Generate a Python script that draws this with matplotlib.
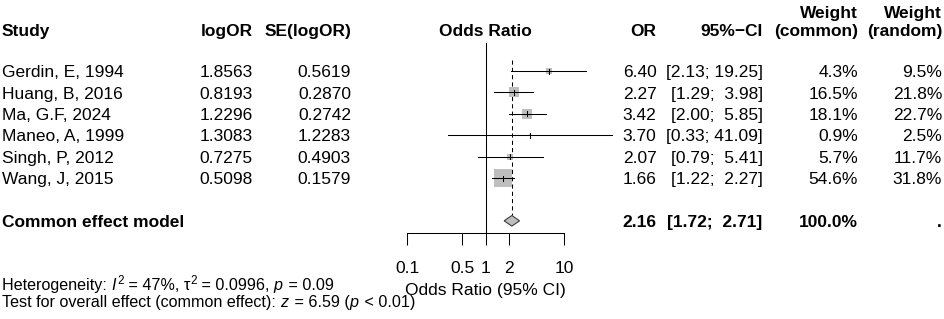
import numpy as np
import matplotlib
matplotlib.use("Agg")
import matplotlib.pyplot as plt
from matplotlib.font_manager import FontProperties

plt.rcParams['font.family'] = ['Liberation Sans', 'DejaVu Sans']

# ---------------- data ----------------
studies = ["Gerdin, E, 1994", "Huang, B, 2016", "Ma, G.F, 2024",
           "Maneo, A, 1999", "Singh, P, 2012", "Wang, J, 2015"]
log_or = [1.8563, 0.8193, 1.2296, 1.3083, 0.7275, 0.5098]
se_log_or = [0.5619, 0.2870, 0.2742, 1.2283, 0.4903, 0.1579]
odds_ratio = [6.40, 2.27, 3.42, 3.70, 2.07, 1.66]
ci_low = [2.13, 1.29, 2.00, 0.33, 0.79, 1.22]
ci_high = [19.25, 3.98, 5.85, 41.09, 5.41, 2.27]
weight_common = [4.3, 16.5, 18.1, 0.9, 5.7, 54.6]
weight_random = [9.5, 21.8, 22.7, 2.5, 11.7, 31.8]

pooled_label = "Common effect model"
pooled_or = 2.16
pooled_low = 1.72
pooled_high = 2.71
pooled_weight_common = 100.0

tick_values = [0.1, 0.5, 1, 2, 10]
tick_labels = ["0.1", "0.5", "1", "2", "10"]

# (text, italic, superscript)
het_parts = [("Heterogeneity: ", False, False), ("I", True, False), ("2", False, True),
             (" = 47%, ", False, False), ("\u03c4", False, False), ("2", False, True),
             (" = 0.0996, ", False, False), ("p", True, False), (" = 0.09", False, False)]
test_parts = [("Test for overall effect (common effect): ", False, False), ("z", True, False),
              (" = 6.59 (", False, False), ("p", True, False), (" < 0.01)", False, False)]

# ---------------- layout (pixels) ----------------
W, H = 944, 319
FS = 12.5
FS_NOTE = 11.6
GRAY = "#BEBEBE"
LW = 0.75

fig = plt.figure(figsize=(W / 100, H / 100), dpi=100)
ax = fig.add_axes([0, 0, 1, 1])
ax.set_xlim(0, W)
ax.set_ylim(H, 0)
ax.axis("off")

x_left, x_right, y_axis = 407.3, 564.0, 233.3
fa = fig.add_axes([x_left / W, 1 - y_axis / H, (x_right - x_left) / W, y_axis / H])
fa.set_xscale("log")
fa.set_xlim(tick_values[0], tick_values[-1])
fa.set_ylim(y_axis, 0)
fa.patch.set_alpha(0)
for s in ("top", "left", "right"):
    fa.spines[s].set_visible(False)
fa.spines["bottom"].set_linewidth(LW)
fa.set_xticks(tick_values)
fa.set_xticklabels(tick_labels)
fa.xaxis.set_minor_locator(matplotlib.ticker.NullLocator())
fa.tick_params(axis="x", length=8.4, width=LW, pad=11.5, labelsize=FS)
fa.set_yticks([])

row0, dy = 71.0, 21.4
rows_y = [row0 + i * dy for i in range(len(studies))]
pooled_y = row0 + (len(studies) + 1) * dy
header_y = 30.0
cap = 6.2  # half cap height, to convert centre to baseline

# reference lines
fa.plot([1, 1], [42.7, y_axis], color="black", lw=LW, clip_on=False)
fa.plot([pooled_or, pooled_or], [60, pooled_y - 5.5], color="black", lw=LW,
        linestyle=(0, (4, 3)), clip_on=False)

# study markers
wmax = max(weight_common)
for i, y in enumerate(rows_y):
    side_px = 18.4 * np.sqrt(weight_common[i] / wmax)
    fa.plot(odds_ratio[i], y, marker="s", ms=side_px * 0.72, color=GRAY,
            mec=GRAY, mew=0, zorder=2, clip_on=False)
    fa.plot([ci_low[i], ci_high[i]], [y, y], color="black", lw=LW, zorder=3,
            clip_on=False)
    fa.plot([odds_ratio[i]] * 2, [y - 2.5, y + 2.5], color="black", lw=LW,
            zorder=3, clip_on=False)

# pooled diamond
fa.fill([pooled_low, pooled_or, pooled_high, pooled_or],
        [pooled_y, pooled_y - 5.3, pooled_y, pooled_y + 5.3],
        facecolor=GRAY, edgecolor="#333333", lw=LW, zorder=3, clip_on=False)

# ---------------- text ----------------
def t(x, y, s, ha="left", bold=False, size=FS):
    ax.text(x, y + cap, s, ha=ha, va="baseline", fontsize=size,
            fontweight="bold" if bold else "normal")

renderer = fig.canvas.get_renderer()

def text_w(s, size, italic):
    fp = FontProperties(family="Liberation Sans", size=size,
                        style="italic" if italic else "normal")
    w, h, d = renderer.get_text_width_height_descent(s, fp, ismath=False)
    return w

def rich(x, y, parts, size0):
    half = size0 / 12.5 * cap
    for s, italic, sup in parts:
        size = size0 * 0.72 if sup else size0
        yb = y + half - (5.5 if sup else 0.0)
        ax.text(x, yb, s, ha="left", va="baseline", fontsize=size,
                style="italic" if italic else "normal")
        x += text_w(s + "|", size, italic) - text_w("|", size, italic)
        if italic:
            x += 1.5  # italic correction

x_study, x_lor, x_se, x_or, x_ci, x_wc, x_wr = 2, 253, 351, 656.5, 762.7, 858, 942

t(x_study, header_y, "Study", bold=True)
t(x_lor, header_y, "logOR", ha="right", bold=True)
t(x_se, header_y, "SE(logOR)", ha="right", bold=True)
t(485.7, header_y, "Odds Ratio", ha="center", bold=True)
t(x_or, header_y, "OR", ha="right", bold=True)
t(x_ci, header_y, "95%\u2212CI", ha="right", bold=True)
t(x_wc, header_y - 18.5, "Weight", ha="right", bold=True)
t(x_wc, header_y, "(common)", ha="right", bold=True)
t(x_wr, header_y - 18.5, "Weight", ha="right", bold=True)
t(x_wr, header_y, "(random)", ha="right", bold=True)

for i, y in enumerate(rows_y):
    t(x_study, y, studies[i])
    t(x_lor, y, f"{log_or[i]:.4f}", ha="right")
    t(x_se, y, f"{se_log_or[i]:.4f}", ha="right")
    t(x_or, y, f"{odds_ratio[i]:.2f}", ha="right")
    t(x_ci, y, f"[{ci_low[i]:.2f}; {ci_high[i]:5.2f}]", ha="right")
    t(x_wc, y, f"{weight_common[i]:.1f}%", ha="right")
    t(x_wr, y, f"{weight_random[i]:.1f}%", ha="right")

t(x_study, pooled_y, pooled_label, bold=True)
t(x_or, pooled_y, f"{pooled_or:.2f}", ha="right", bold=True)
t(x_ci, pooled_y, f"[{pooled_low:.2f}; {pooled_high:5.2f}]", ha="right", bold=True)
t(x_wc, pooled_y, f"{pooled_weight_common:.1f}%", ha="right", bold=True)
t(x_wr, pooled_y, ".", ha="right", bold=True)

t(485.7, 288.3, "Odds Ratio (95% CI)", ha="center")
rich(x_study, 284.0, het_parts, FS_NOTE)
rich(x_study, 301.0, test_parts, FS_NOTE)

fig.savefig("out.png", dpi=100)
